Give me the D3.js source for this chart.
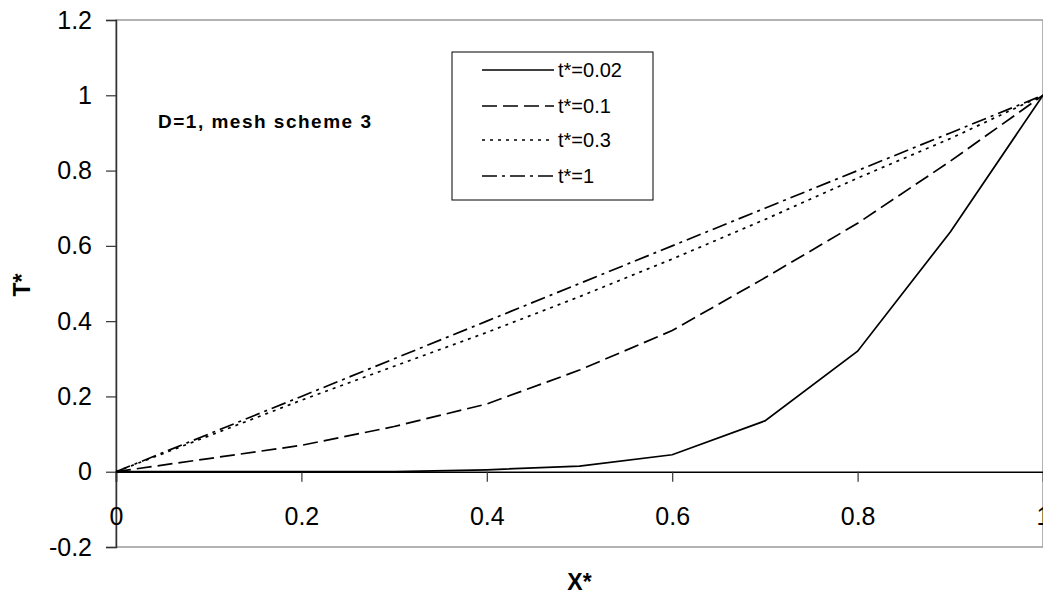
<!DOCTYPE html>
<html>
<head>
<meta charset="utf-8">
<title>T* vs X*</title>
<script src="https://cdn.jsdelivr.net/npm/d3@7"></script>
<style>
  body { margin: 0; background: #fff; }
  svg text { font-family: "Liberation Sans", Arial, sans-serif; }
</style>
</head>
<body>
<svg id="svg"></svg>
<script>
// values
var xValues = [0, 0.1, 0.2, 0.3, 0.4, 0.5, 0.6, 0.7, 0.8, 0.9, 1];
var t002 = [0, 0, 0, 0, 0.005, 0.015, 0.045, 0.135, 0.32, 0.637, 1];
var t01  = [0, 0.035, 0.07, 0.12, 0.18, 0.27, 0.375, 0.515, 0.66, 0.825, 1];
var t03  = [0, 0.095, 0.19, 0.28, 0.37, 0.465, 0.565, 0.67, 0.78, 0.885, 1];
var t1   = [0, 0.1, 0.2, 0.3, 0.4, 0.5, 0.6, 0.7, 0.8, 0.9, 1];
var seriesNames = ["t*=0.02", "t*=0.1", "t*=0.3", "t*=1"];
var xTicks = [0, 0.2, 0.4, 0.6, 0.8, 1];
var yTicks = [-0.2, 0, 0.2, 0.4, 0.6, 0.8, 1, 1.2];

var width = 1043, height = 600,
    margin = {top: 20, left: 116, right: 0, bottom: 53};

var svg = d3.select("#svg").attr("width", width).attr("height", height);

var x = d3.scaleLinear().domain([0, 1]).range([margin.left, width - margin.right]);
var y = d3.scaleLinear().domain([-0.2, 1.2]).range([height - margin.bottom, margin.top]);

var fmt = function(d) { return String(+d.toFixed(1)); };

// plot frame
svg.append("rect")
  .attr("x", x(0)).attr("y", y(1.2))
  .attr("width", x(1) - x(0)).attr("height", y(-0.2) - y(1.2))
  .attr("fill", "none").attr("stroke", "#9a9a9a").attr("stroke-width", 1.5);

// y axis
var axisY = d3.axisLeft(y).tickValues(yTicks).tickSize(10).tickPadding(14).tickFormat(fmt);
var gy = svg.append("g").attr("transform", "translate(" + x(0) + ",0)").call(axisY);
gy.select(".domain").attr("stroke", "#333").attr("stroke-width", 1.5);
gy.selectAll(".tick line").attr("stroke", "#333").attr("stroke-width", 1.2);
gy.selectAll("text").style("font-size", "25px").attr("fill", "#000");

// x axis at y = 0
var axisX = d3.axisBottom(x).tickValues(xTicks).tickSize(10).tickFormat(fmt);
var gx = svg.append("g").attr("transform", "translate(0," + y(0) + ")").call(axisX);
gx.select(".domain").attr("stroke", "#000").attr("stroke-width", 1.5);
gx.selectAll(".tick line").attr("stroke", "#333").attr("stroke-width", 1.2);
gx.selectAll("text").style("font-size", "25px").attr("fill", "#000")
  .attr("y", 53).attr("dy", 0);

// axis titles
svg.append("text")
  .attr("x", (x(0) + x(1)) / 2).attr("y", 590)
  .attr("text-anchor", "middle")
  .style("font-size", "23px").style("font-weight", "bold")
  .text("X*");
svg.append("text")
  .attr("transform", "translate(30," + 285 + ")rotate(-90)")
  .attr("text-anchor", "middle")
  .style("font-size", "23px").style("font-weight", "bold")
  .text("T*");

// lines
var styles = [
  {data: t002, dash: null},
  {data: t01, dash: "15,6"},
  {data: t03, dash: "3,5"},
  {data: t1, dash: "15,5,3,5"}
];
var line = d3.line()
  .x(function(d, i) { return x(xValues[i]); })
  .y(function(d) { return y(d); });

svg.selectAll(".series").data(styles).enter()
  .append("path")
  .attr("class", "series")
  .attr("d", function(s) { return line(s.data); })
  .attr("fill", "none").attr("stroke", "#000").attr("stroke-width", 1.7)
  .attr("stroke-dasharray", function(s) { return s.dash; });

// annotation
svg.append("text")
  .attr("x", 158).attr("y", 128)
  .style("font-size", "19px").style("font-weight", "bold")
  .style("letter-spacing", "1.5px")
  .text("D=1, mesh scheme 3");

// legend
var legend = svg.append("g").attr("transform", "translate(452,52)");
legend.append("rect").attr("width", 201).attr("height", 148)
  .attr("fill", "#fff").attr("stroke", "#000").attr("stroke-width", 1);
var rowY = [18, 54, 88, 124];
styles.forEach(function(s, i) {
  legend.append("line")
    .attr("x1", 30).attr("x2", 102).attr("y1", rowY[i]).attr("y2", rowY[i])
    .attr("stroke", "#000").attr("stroke-width", 1.7)
    .attr("stroke-dasharray", s.dash);
  legend.append("text")
    .attr("x", 106).attr("y", rowY[i] + 7)
    .style("font-size", "20px")
    .text(seriesNames[i]);
});
</script>
</body>
</html>
